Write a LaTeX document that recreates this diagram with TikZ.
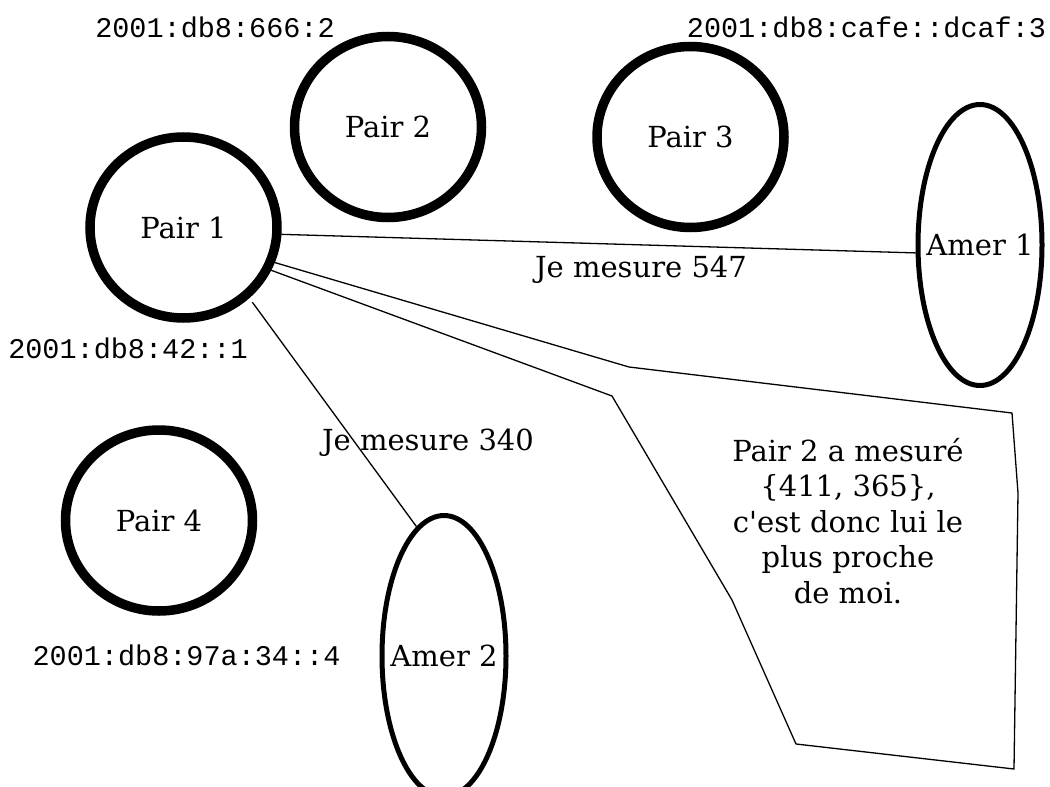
\documentclass[tikz,border=0pt]{standalone}
\usepackage{fontspec}
\setmainfont{DejaVu Serif}
\newfontfamily\addrfont{Liberation Mono}
\usetikzlibrary{shapes.geometric}

\begin{document}
\begin{tikzpicture}[x=1pt,y=-1pt,
  txt/.style={font=\fontsize{29}{35.5}\selectfont},
  pair/.style={ellipse, draw, line width=9.5pt, minimum width=187pt,
    minimum height=181pt, inner sep=0pt, txt},
  amer/.style={ellipse, draw, line width=5pt, minimum width=124pt,
    minimum height=281pt, inner sep=0pt},
  addr/.style={font=\addrfont\fontsize{28.5}{32}\selectfont, inner sep=0pt},
  msg/.style={txt, inner sep=0pt},
  link/.style={line width=1.3pt, line join=miter}]

\useasboundingbox (0,0) rectangle (1050,787);
\clip (0,0) rectangle (1050,787);

% peers and landmarks
\node[pair] (p1) at (183.5,227.5) {Pair 1};
\node[pair] (p2) at (388,127) {Pair 2};
\node[pair] (p3) at (690.5,137) {Pair 3};
\node[pair] (p4) at (159,520.5) {Pair 4};
\node[amer, label={[txt]center:Amer 1}] (a1) at (980,245) {};
\node[amer, label={[txt]center:Amer 2}] (a2) at (444,656) {};

% addresses
\node[addr] (ad2) at (215,27) {2001:db8:666:2};
\node[addr] (ad3) at (866.5,27) {2001:db8:cafe::dcaf:3};
\node[addr] (ad1) at (128,348) {2001:db8:42::1};
\node[addr] (ad4) at (186.5,655) {2001:db8:97a:34::4};

% measurements
\draw[link] (p1.-4) -- (a1.187);
\node[msg] (m1) at (641,270) {Je mesure 547};
\draw[link, shorten <=5pt] (p1.-47.7) -- (a2.102);
\node[msg] (m2) at (428,443) {Je mesure 340};

% speech bubble attached to Pair 1
\coordinate (c1) at (629,367);
\coordinate (c2) at (1012,413);
\coordinate (c3) at (1018,493);
\coordinate (c4) at (1014,769);
\coordinate (c5) at (796,744);
\coordinate (c6) at (732,600);
\coordinate (c7) at (612,396);
\draw[link] (p1.-21) -- (c1) -- (c2) -- (c3) -- (c4) -- (c5) -- (c6) -- (c7) -- (p1.-26);
\node[msg, align=center] (bubble) at (848,521)
  {Pair 2 a mesuré\\\{411, 365\},\\c\textquotesingle est donc lui le\\plus proche\\de moi.};
\end{tikzpicture}
\end{document}
